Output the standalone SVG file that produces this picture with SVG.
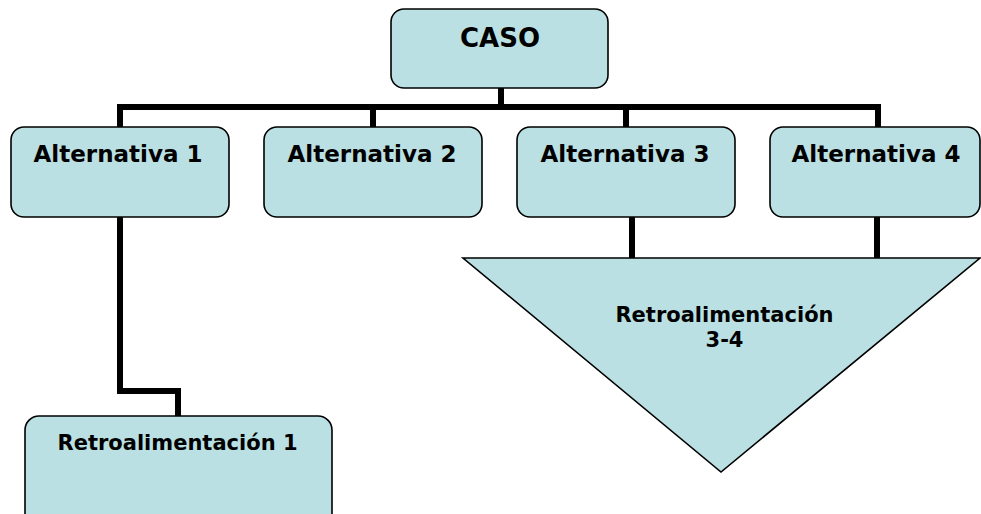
<svg xmlns="http://www.w3.org/2000/svg" width="981" height="514" viewBox="0 0 981 514">
<style>
.box{fill:#BAE0E3;stroke:#000;stroke-width:1.6}
.conn{fill:none;stroke:#000;stroke-width:6;stroke-linejoin:miter}
text{font-family:"DejaVu Sans","Verdana",sans-serif;font-weight:bold;fill:#000;text-anchor:middle}
.alt{font-size:23px}
.retro{font-size:21px}
</style>
<rect width="981" height="514" fill="#fff"/>
<g id="connectors">
<path class="conn" d="M501 88 V107"/>
<path class="conn" d="M117 107 H881"/>
<path class="conn" d="M120 104 V127"/>
<path class="conn" d="M373 104 V127"/>
<path class="conn" d="M626 104 V127"/>
<path class="conn" d="M878 104 V127"/>
<path class="conn" d="M120 217 V391 H178 V416"/>
<path class="conn" d="M632 217 V258"/>
<path class="conn" d="M877 217 V258"/>
</g>
<g id="caso">
<rect class="box" x="391" y="9" width="217" height="79" rx="13"/>
<text x="500" y="46.5" style="font-size:26px">CASO</text>
</g>
<g id="alt1">
<rect class="box" x="11" y="127" width="218" height="90" rx="13"/>
<text class="alt" x="118" y="162">Alternativa 1</text>
</g>
<g id="alt2">
<rect class="box" x="264" y="127" width="218" height="90" rx="13"/>
<text class="alt" x="372" y="162">Alternativa 2</text>
</g>
<g id="alt3">
<rect class="box" x="517" y="127" width="218" height="90" rx="13"/>
<text class="alt" x="625" y="162">Alternativa 3</text>
</g>
<g id="alt4">
<rect class="box" x="770" y="127" width="210" height="90" rx="13"/>
<text class="alt" x="876" y="162">Alternativa 4</text>
</g>
<g id="retro34">
<polygon class="box" points="463,258 980,258 721,472"/>
<text class="retro" x="724.5" y="322">Retroalimentación</text>
<text class="retro" x="724.5" y="347">3-4</text>
</g>
<g id="retro1">
<rect class="box" x="25" y="416" width="307" height="112" rx="14"/>
<text class="retro" x="177.5" y="450">Retroalimentación 1</text>
</g>
</svg>
